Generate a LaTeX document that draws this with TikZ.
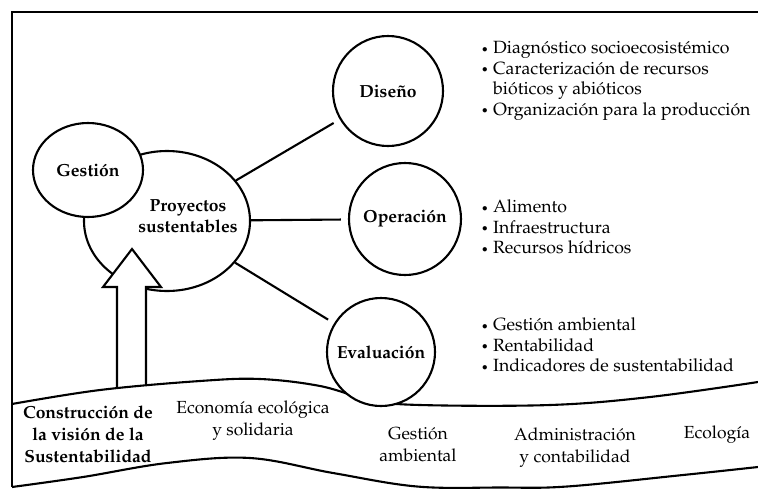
\documentclass[tikz,border=0pt]{standalone}
\usepackage[T1]{fontenc}
\usepackage{mathpazo}
\usetikzlibrary{shapes.geometric}
\newcommand{\bul}{\raisebox{0.2ex}{$\scriptscriptstyle\bullet$}\hspace{0.3em}}
\begin{document}
\begin{tikzpicture}[x=1pt,y=-1pt,line width=2.1pt,
  every node/.style={font=\fontsize{17.7}{20.5}\selectfont},
  bub/.style={ellipse,draw,fill=white,inner sep=0pt},
  circ/.style={circle,draw,fill=white,inner sep=0pt,font=\fontsize{17.5}{20.5}\selectfont\bfseries},
  btext/.style={align=center,inner sep=0pt,font=\fontsize{17.5}{20.5}\selectfont\bfseries},
  blist/.style={anchor=west,align=left,inner sep=0pt},
  lab/.style={align=center,inner sep=0pt,font=\fontsize{17.5}{22}\selectfont},
  labb/.style={align=center,inner sep=0pt,font=\fontsize{17.5}{22}\selectfont\bfseries},
  link/.style={shorten >=7pt}]
\useasboundingbox (0,0) rectangle (758,488);
% central ellipses
\node[bub,minimum width=166,minimum height=140] (proy) at (167,221) {};
\node[bub,minimum width=110,minimum height=94,font=\fontsize{17.5}{20.5}\selectfont\bfseries] (gest) at (88,170) {Gestión};
\node[btext] (proyt) at (188,216) {Proyectos\\sustentables};
% hollow arrow
\draw[fill=white] (117,400) -- (117,287) -- (103,287) -- (132,249) -- (161,287) -- (146,287) -- (146,400);
% band
\fill[white] plot[smooth,tension=0.6] coordinates {(12,404) (100,390) (200,381) (260,379) (320,386) (370,400) (420,405) (550,405) (650,397) (758,382)} -- (758,488) -- (12,488) -- cycle;
\draw plot[smooth,tension=0.6] coordinates {(12,404) (100,390) (200,381) (260,379) (320,386) (370,400) (420,405) (550,405) (650,397) (758,382)};
\draw plot[smooth,tension=0.6] coordinates {(12,487) (83,477) (167,463) (250,458) (333,473) (417,486.5) (500,487.5) (567,486.5) (683,475) (758,467)};
% frame
\draw (758,12) -- (12,12) -- (12,487);
% circles
\node[circ,minimum size=110] (dis) at (388,91) {Diseño};
\node[circ,minimum size=112] (ope) at (405,219) {Operación};
\node[circ,minimum size=108] (eva) at (381,352) {Evaluación};
% links
\draw[link] (proy) -- (dis);
\draw[link] (proy) -- (ope);
\draw[link] (proy) -- (eva);
% lists
\node[blist] (dl) at (481,81) {\bul Diagnóstico socioecosistémico\\\bul Caracterización de recursos\\\hphantom{\bul}bióticos y abióticos\\\bul Organización para la producción};
\node[blist] (ol) at (481,227) {\bul Alimento\\\bul Infraestructura\\\bul Recursos hídricos};
\node[blist] (el) at (481,345) {\bul Gestión ambiental\\\bul Rentabilidad\\\bul Indicadores de sustentabilidad};
% band labels
\node[labb] (cons) at (88,434) {Construcción de\\la visión de la\\Sustentabilidad};
\node[lab] (eco) at (253,421) {Economía ecológica\\y solidaria};
\node[lab] (gam) at (418,445) {Gestión\\ambiental};
\node[lab] (adm) at (575,448) {Administración\\y contabilidad};
\node[lab] (ecol) at (717,435) {Ecología};
\end{tikzpicture}
\end{document}
